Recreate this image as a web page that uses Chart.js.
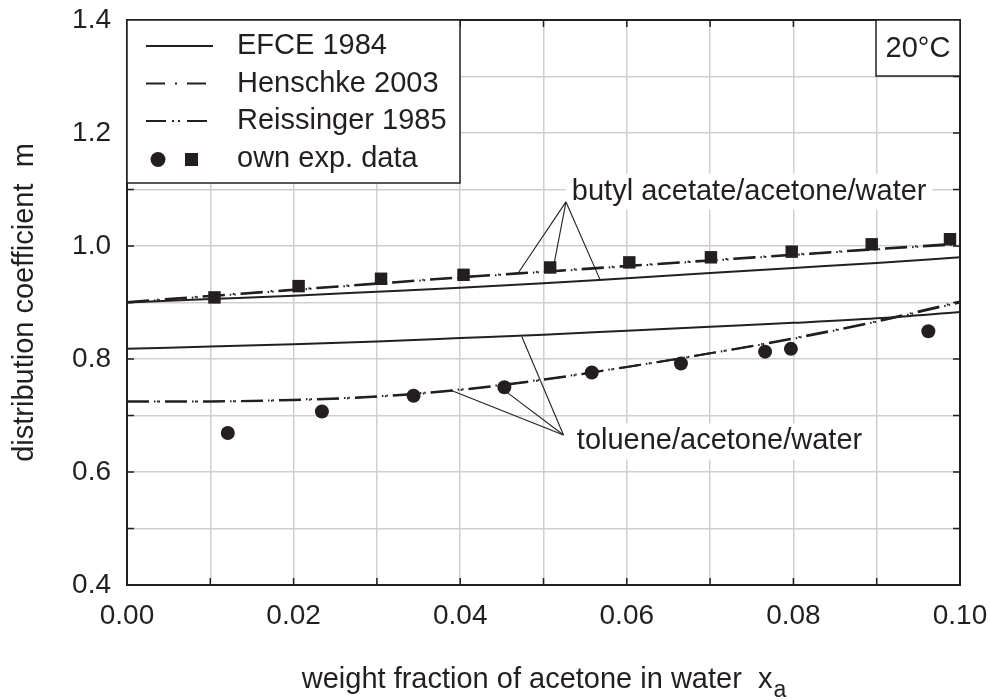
<!DOCTYPE html>
<html>
<head>
<meta charset="utf-8">
<title>distribution coefficient m vs acetone fraction</title>
<script src="https://cdn.jsdelivr.net/npm/chart.js@4.4.1/dist/chart.umd.min.js"></script>
<style>
  html, body { margin: 0; padding: 0; background: #fff; }
  #wrap { width: 990px; height: 700px; position: relative; }
</style>
</head>
<body>
<div id="wrap"><canvas id="mChart"></canvas></div>
<script>
// weight fraction of acetone in water (model curves)
const xa = [0, 0.01, 0.02, 0.03, 0.04, 0.05, 0.06, 0.07, 0.08, 0.09, 0.10];

// EFCE 1984
const efceButyl   = [0.900, 0.906, 0.912, 0.919, 0.926, 0.934, 0.943, 0.952, 0.961, 0.970, 0.980];
const efceToluene = [0.818, 0.822, 0.826, 0.831, 0.837, 0.843, 0.850, 0.857, 0.864, 0.872, 0.883];
// Henschke 2003
const henschkeButyl   = [0.901, 0.912, 0.923, 0.934, 0.945, 0.955, 0.965, 0.975, 0.985, 0.995, 1.005];
const henschkeToluene = [0.725, 0.725, 0.727, 0.733, 0.745, 0.763, 0.786, 0.810, 0.837, 0.867, 0.902];
// Reissinger 1985
const reissingerButyl   = [0.900, 0.911, 0.922, 0.933, 0.944, 0.954, 0.964, 0.974, 0.984, 0.994, 1.003];
const reissingerToluene = [0.725, 0.725, 0.728, 0.734, 0.746, 0.764, 0.786, 0.810, 0.836, 0.866, 0.900];

// own exp. data
const butylX = [0.0105, 0.0206, 0.0305, 0.0404, 0.0508, 0.0603, 0.0701, 0.0798, 0.0894, 0.0988];
const butylM = [0.909, 0.929, 0.942, 0.949, 0.962, 0.971, 0.980, 0.990, 1.003, 1.012];
const tolueneX = [0.0121, 0.0234, 0.0344, 0.0453, 0.0558, 0.0665, 0.0766, 0.0797, 0.0962];
const tolueneM = [0.669, 0.707, 0.735, 0.750, 0.776, 0.792, 0.813, 0.818, 0.849];

const xTicks = [0, 0.02, 0.04, 0.06, 0.08, 0.10];
const yTicks = [0.4, 0.6, 0.8, 1.0, 1.2, 1.4];

const FONT = '"Liberation Sans", Arial, Helvetica, sans-serif';
const INK = '#231f20';
// same period (38px) so the long dashes of both models line up
const HENSCHKE_DASH = [22, 8, 1.5, 6.5];
const REISSINGER_DASH = [22, 5, 1.5, 3, 1.5, 5];

const pts = (xs, ys) => xs.map((x, i) => ({ x: x, y: ys[i] }));

function curve(label, ys, dash) {
  return {
    label: label,
    data: pts(xa, ys),
    showLine: true,
    borderColor: INK,
    borderWidth: 2,
    borderDash: dash,
    pointRadius: 0,
    cubicInterpolationMode: 'monotone',
    fill: false
  };
}

// leader lines for the system labels, in data units
const butylHub = [0.0527, 1.078];
const butylEnds = [[0.0470, 0.953], [0.0512, 0.963], [0.0568, 0.940]];
const tolueneHub = [0.0524, 0.6655];
const tolueneEnds = [[0.0474, 0.8395], [0.0457, 0.740], [0.0388, 0.745]];

const notes = [
  { text: 'butyl acetate/acetone/water', x: 0.0534, y: 1.096 },
  { text: 'toluene/acetone/water', x: 0.0540, y: 0.654 }
];

const decor = {
  id: 'decor',
  beforeDatasetsDraw(chart) {
    const c = chart.ctx, sx = chart.scales.x, sy = chart.scales.y;
    c.save();
    c.font = '29px ' + FONT;
    c.fillStyle = '#fff';
    notes.forEach(n => {
      const w = c.measureText(n.text).width;
      const px = sx.getPixelForValue(n.x), py = sy.getPixelForValue(n.y);
      c.fillRect(px - 6, py - 18, w + 12, 36);
    });
    c.restore();
  },
  afterDatasetsDraw(chart) {
    const c = chart.ctx, sx = chart.scales.x, sy = chart.scales.y;
    const a = chart.chartArea;
    const X = v => sx.getPixelForValue(v), Y = v => sy.getPixelForValue(v);
    c.save();

    // leader lines
    c.strokeStyle = INK;
    c.lineWidth = 1.1;
    [[butylHub, butylEnds], [tolueneHub, tolueneEnds]].forEach(([hub, ends]) => {
      ends.forEach(e => {
        c.beginPath();
        c.moveTo(X(hub[0]), Y(hub[1]));
        c.lineTo(X(e[0]), Y(e[1]));
        c.stroke();
      });
    });

    // system labels
    c.fillStyle = INK;
    c.font = '29px ' + FONT;
    c.textBaseline = 'middle';
    c.textAlign = 'left';
    notes.forEach(n => c.fillText(n.text, X(n.x), Y(n.y)));

    // inner tick marks on all four sides
    c.lineWidth = 1.5;
    c.beginPath();
    for (let i = 0; i <= 10; i++) {
      const px = X(i / 100);
      c.moveTo(px, a.bottom); c.lineTo(px, a.bottom - 7);
      c.moveTo(px, a.top); c.lineTo(px, a.top + 7);
    }
    for (let i = 4; i <= 14; i++) {
      const py = Y(i / 10);
      c.moveTo(a.left, py); c.lineTo(a.left + 7, py);
      c.moveTo(a.right, py); c.lineTo(a.right - 7, py);
    }
    c.stroke();

    // frame
    c.lineWidth = 2;
    c.strokeRect(a.left, a.top, a.right - a.left, a.bottom - a.top);

    // legend box
    const lx = a.left, ly = a.top, lw = 333, lh = 163;
    c.fillStyle = '#fff';
    c.fillRect(lx, ly, lw, lh);
    c.lineWidth = 1.5;
    c.strokeRect(lx, ly, lw, lh);

    const rows = [
      { text: 'EFCE 1984', dash: [] },
      { text: 'Henschke 2003', dash: [19, 10, 2, 10] },
      { text: 'Reissinger 1985', dash: [20, 6, 2, 4, 2, 7] },
      { text: 'own exp. data', dash: null }
    ];
    c.font = '29px ' + FONT;
    c.textBaseline = 'middle';
    rows.forEach((r, i) => {
      const ry = ly + 26 + i * 37.5;
      if (r.dash) {
        c.setLineDash(r.dash);
        c.lineWidth = 2;
        c.beginPath();
        c.moveTo(lx + 19, ry); c.lineTo(lx + 86, ry);
        c.stroke();
        c.setLineDash([]);
      } else {
        c.fillStyle = INK;
        c.beginPath();
        c.arc(lx + 31, ry + 1, 7.5, 0, Math.PI * 2);
        c.fill();
        c.fillRect(lx + 58, ry + 1 - 6.5, 13, 13);
      }
      c.fillStyle = INK;
      c.fillText(r.text, lx + 110, ry);
    });

    // temperature box
    c.fillStyle = '#fff';
    c.fillRect(a.right - 84, a.top, 84, 56);
    c.lineWidth = 1.5;
    c.strokeRect(a.right - 84, a.top, 84, 56);
    c.fillStyle = INK;
    c.textAlign = 'center';
    c.fillText('20°C', a.right - 42, a.top + 29);

    c.restore();
  },
  afterDraw(chart) {
    const c = chart.ctx, a = chart.chartArea;
    c.save();
    c.fillStyle = INK;
    // x axis title with subscript
    c.font = '29px ' + FONT;
    const main = 'weight fraction of acetone in water  x';
    const wMain = c.measureText(main).width;
    c.font = '23px ' + FONT;
    const wSub = c.measureText('a').width;
    const x0 = (a.left + a.right) / 2 - (wMain + wSub) / 2;
    c.textBaseline = 'alphabetic';
    c.textAlign = 'left';
    c.font = '29px ' + FONT;
    c.fillText(main, x0, 688);
    c.font = '23px ' + FONT;
    c.fillText('a', x0 + wMain + 1, 697);
    // y axis title
    c.font = '29px ' + FONT;
    c.translate(33, (a.top + a.bottom) / 2);
    c.rotate(-Math.PI / 2);
    c.textAlign = 'center';
    c.fillText('distribution coefficient  m', 0, 0);
    c.restore();
  }
};

new Chart(document.getElementById('mChart'), {
  type: 'scatter',
  data: {
    datasets: [
      curve('EFCE 1984', efceButyl, []),
      curve('EFCE 1984', efceToluene, []),
      curve('Henschke 2003', henschkeButyl, HENSCHKE_DASH),
      curve('Henschke 2003', henschkeToluene, HENSCHKE_DASH),
      curve('Reissinger 1985', reissingerButyl, REISSINGER_DASH),
      curve('Reissinger 1985', reissingerToluene, REISSINGER_DASH),
      {
        label: 'own exp. data',
        data: pts(butylX, butylM),
        pointStyle: 'rect',
        pointRadius: 8.8,
        pointHoverRadius: 8.8,
        backgroundColor: INK,
        borderColor: INK,
        borderWidth: 0
      },
      {
        label: 'own exp. data',
        data: pts(tolueneX, tolueneM),
        pointStyle: 'circle',
        pointRadius: 7,
        pointHoverRadius: 7,
        backgroundColor: INK,
        borderColor: INK,
        borderWidth: 0
      }
    ]
  },
  options: {
    responsive: true,
    maintainAspectRatio: false,
    devicePixelRatio: 1,
    animation: false,
    layout: { padding: { left: 0, top: 20, right: 30, bottom: 0 } },
    plugins: { legend: { display: false }, tooltip: { enabled: false } },
    scales: {
      x: {
        type: 'linear',
        min: 0,
        max: 0.1,
        afterFit: s => { s.height = 115; s.paddingLeft = 0; s.paddingRight = 0; },
        afterBuildTicks: s => {
          s.ticks = [];
          for (let i = 0; i <= 10; i++) s.ticks.push({ value: i / 100 });
        },
        ticks: {
          padding: 14,
          maxRotation: 0,
          autoSkip: false,
          color: INK,
          font: { family: FONT, size: 28 },
          callback: v => {
            const t = xTicks.find(k => Math.abs(k - v) < 1e-9);
            return t === undefined ? '' : t.toFixed(2);
          }
        },
        grid: { color: '#cfcfcf', lineWidth: 1.5, drawTicks: false },
        border: { display: true, color: INK, width: 2 }
      },
      y: {
        type: 'linear',
        min: 0.4,
        max: 1.4,
        afterFit: s => { s.width = 127; s.paddingTop = 0; s.paddingBottom = 0; },
        afterBuildTicks: s => {
          s.ticks = [];
          for (let i = 4; i <= 14; i++) s.ticks.push({ value: i / 10 });
        },
        ticks: {
          padding: 16,
          autoSkip: false,
          color: INK,
          font: { family: FONT, size: 28 },
          callback: v => {
            const t = yTicks.find(k => Math.abs(k - v) < 1e-9);
            return t === undefined ? '' : t.toFixed(1);
          }
        },
        grid: { color: '#cfcfcf', lineWidth: 1.5, drawTicks: false },
        border: { display: true, color: INK, width: 2 }
      }
    }
  },
  plugins: [decor]
});
</script>
</body>
</html>
